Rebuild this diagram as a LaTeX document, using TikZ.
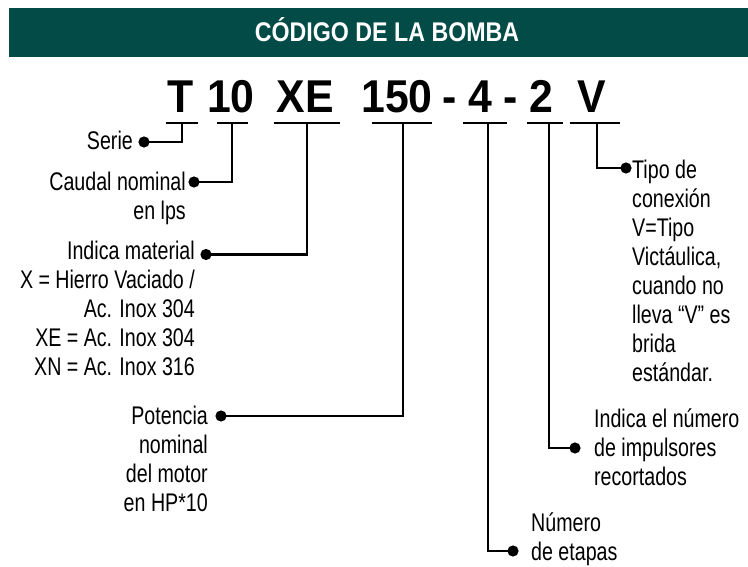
\documentclass[tikz,border=0pt]{standalone}
\usepackage{fontspec}
\setmainfont{Liberation Sans}[FakeStretch=0.77]
\newfontfamily\titlefont{Liberation Sans}[FakeStretch=0.86]
\newfontfamily\codefont{Liberation Sans}[FakeStretch=0.93]
\definecolor{banner}{RGB}{2,75,71}
\newcommand\lns[2]{\begin{tabular}[t]{@{}#1@{}}#2\end{tabular}}
\begin{document}
\begin{tikzpicture}[x=1pt,y=-1pt,
  lbl/.style={inner sep=0pt, font=\fontsize{25.5}{29}\selectfont},
  code/.style={inner sep=0pt, anchor=base, font=\codefont\bfseries\fontsize{46}{50}\selectfont},
  ubar/.style={fill=black, inner sep=0pt, minimum height=2.7pt},
  dotn/.style={circle, fill=black, inner sep=0pt, minimum size=11.2pt},
  wire/.style={line width=2.7pt, line join=miter}]
\useasboundingbox (0,0) rectangle (748,567);
% banner
\node[fill=banner, minimum width=739pt, minimum height=49pt, inner sep=0pt, anchor=north west] (band) at (9,8) {};
\node[text=white, font=\titlefont\bfseries\fontsize{27}{30}\selectfont, inner sep=0pt, anchor=base] (title) at (387,42) {CÓDIGO DE LA BOMBA};
% code
\node[code] (cT) at (181,113) {T};
\node[code] (c10) at (231,113) {10};
\node[code] (cXE) at (305.5,113) {XE};
\node[code] (c150) at (397,113) {150};
\node[code] (h1) at (450,113) {-};
\node[code] (c4) at (480,113) {4};
\node[code] (h2) at (511,113) {-};
\node[code] (c2) at (541,113) {2};
\node[code] (cV) at (591.5,113) {V};
% underlines
\node[ubar, minimum width=32pt] (uT) at (182,123) {};
\node[ubar, minimum width=31pt] (u10) at (232.5,123) {};
\node[ubar, minimum width=66pt] (uXE) at (307,123) {};
\node[ubar, minimum width=60pt] (u150) at (402,123) {};
\node[ubar, minimum width=44pt] (u4) at (485,123) {};
\node[ubar, minimum width=36pt] (u2) at (545,123) {};
\node[ubar, minimum width=50pt] (uV) at (595,123) {};
% stem tops
\coordinate (sT) at (182,123);
\coordinate (s10) at (232,123);
\coordinate (sXE) at (307,123);
\coordinate (s150) at (403,123);
\coordinate (s4) at (488,123);
\coordinate (s2) at (549,123);
\coordinate (sV) at (597,123);
% dots
\node[dotn] (dSerie) at (144,142) {};
\node[dotn] (dCaudal) at (194,182) {};
\node[dotn] (dMat) at (206,254.5) {};
\node[dotn] (dPot) at (221,416) {};
\node[dotn] (dEtapas) at (513,551) {};
\node[dotn] (dImp) at (575,448) {};
\node[dotn] (dTipo) at (626,168) {};
% connectors
\draw[wire] (sT) |- (dSerie.center);
\draw[wire] (s10) |- (dCaudal.center);
\draw[wire] (sXE) |- (dMat.center);
\draw[wire] (s150) |- (dPot.center);
\draw[wire] (s4) |- (dEtapas.center);
\draw[wire] (s2) |- (dImp.center);
\draw[wire] (sV) |- (dTipo.center);
% labels
\node[lbl, anchor=base east] (tSerie) at (133,150) {Serie};
\node[lbl, anchor=base east] (tCaudal) at (186,191) {\lns{r}{Caudal nominal\\en lps}};
\node[lbl, anchor=base east] (tMat) at (195,260) {\lns{r}{Indica material\\X = Hierro Vaciado /\\Ac. Inox 304\\XE = Ac. Inox 304\\XN = Ac. Inox 316}};
\node[lbl, anchor=base east] (tPot) at (208,424.5) {\lns{r}{Potencia\\nominal\\del motor\\en HP*10}};
\node[lbl, anchor=base west] (tTipo) at (632,178.5) {\lns{l}{Tipo de\\conexión\\V=Tipo\\Victáulica,\\cuando no\\lleva “V” es\\brida\\estándar.}};
\node[lbl, anchor=base west] (tImp) at (594,427.5) {\lns{l}{Indica el número\\de impulsores\\recortados}};
\node[lbl, anchor=base west] (tEtapas) at (531,531) {\lns{l}{Número\\de etapas}};
\end{tikzpicture}
\end{document}
